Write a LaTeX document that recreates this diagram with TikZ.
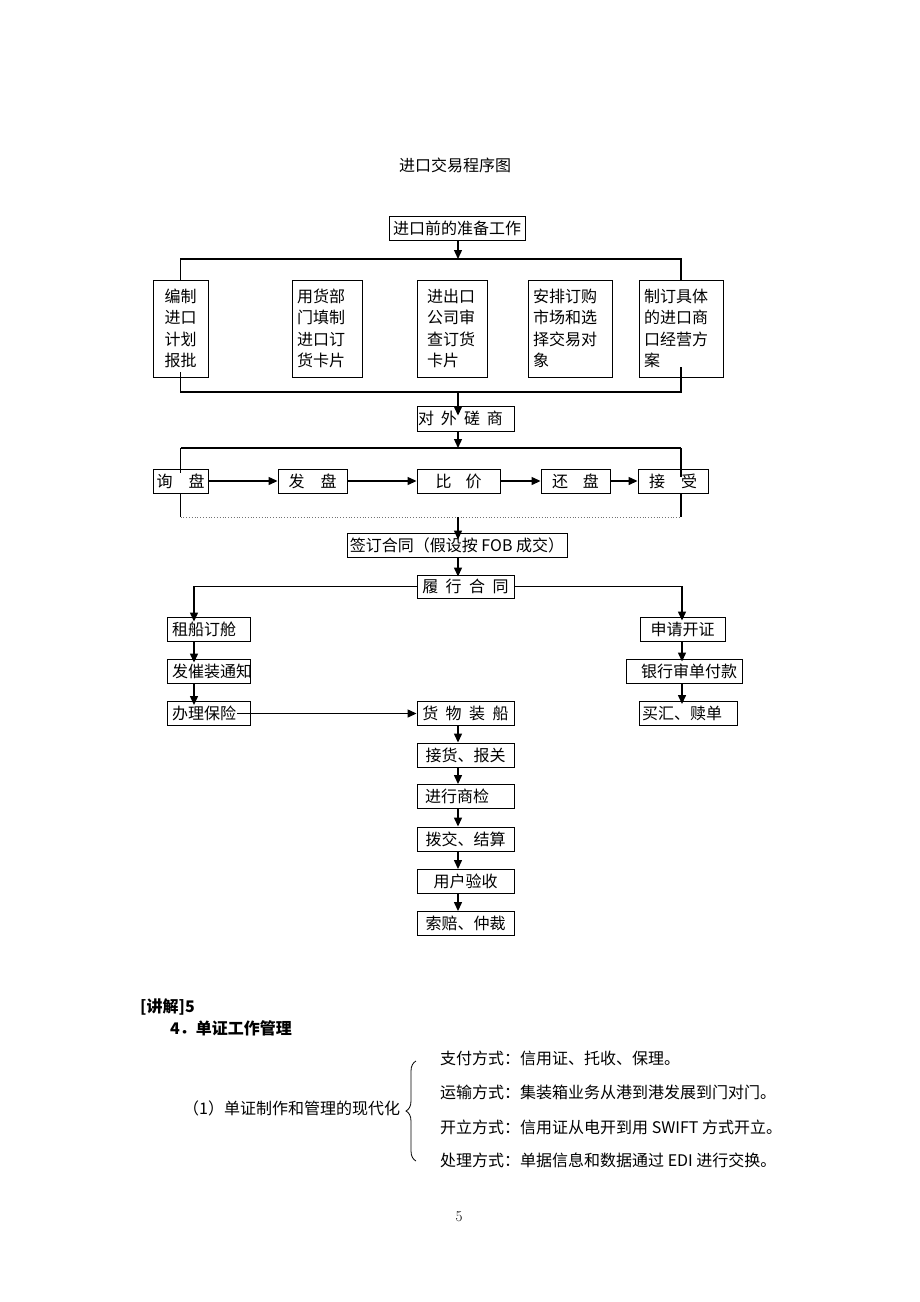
\documentclass[tikz,border=0pt]{standalone}
\usepackage{fontspec}
\newfontfamily\cjk{Noto Sans CJK SC}
\usetikzlibrary{arrows.meta,decorations.pathreplacing,calc}
\begin{document}
\begin{tikzpicture}[x=1pt,y=-1pt,
  every node/.style={font=\cjk\fontsize{16}{21.5}\selectfont},
  bx/.style={draw, line width=0.9pt, inner sep=0pt, minimum height=24pt},
  tall/.style={bx, minimum height=97pt, align=left, inner xsep=5pt},
  lbx/.style={bx, align=left, inner xsep=5pt},
  txt/.style={inner sep=0pt, anchor=west},
  arr/.style={line width=1.3pt, -{Triangle[length=9pt,width=8pt]}},
  ln/.style={line width=1.3pt}]
\useasboundingbox[fill=white] (0,0) rectangle (920,1302);

% title
\node (title) at (455,165) {进口交易程序图};

% preparation
\node[bx, minimum width=136pt] (prep) at (457,228) {进口前的准备工作};
\node[tall, text width=45pt, align=center] (b1) at (180.5,328.5) {编制\\进口\\计划\\报批};
\node[tall, text width=60pt] (b2) at (327,328.5) {用货部\\门填制\\进口订\\货卡片};
\node[tall, text width=50pt, inner xsep=10pt] (b3) at (452,328.5) {进出口\\公司审\\查订货\\卡片};
\node[tall, text width=74pt] (b4) at (570,328.5) {安排订购\\市场和选\\择交易对\\象};
\node[tall, text width=74pt] (b5) at (681,328.5) {制订具体\\的进口商\\口经营方\\案};

\coordinate (j1) at (458,259);
\coordinate (j2) at (458,392);
\draw[arr] (prep.south -| j1) -- (j1);
\draw[ln] (b1.north) -- (b1.north |- j1) -- (b5.north |- j1) -- (b5.north);
\draw[ln] ([yshift=5pt]b1.south) -- (b1.south |- j2) -- (b5.south |- j2) -- ([yshift=10pt]b5.south);

% negotiation
\node[bx, minimum width=97pt, minimum height=25pt, text width=95pt, inner xsep=1pt, align=left] (neg) at (465.5,418.5) {对\hspace{7pt}外\hspace{7pt}磋\hspace{7pt}商};
\draw[arr, shorten >=-10pt] (j2) -- (j2 |- neg.north);
\coordinate (j3) at (458,448);
\draw[arr] (neg.south -| j3) -- (j3);

\node[bx, minimum width=55pt] (x1) at (180.5,481) {询\hspace{16pt}盘};
\node[bx, minimum width=69pt] (x2) at (312.5,481) {发\hspace{16pt}盘};
\node[bx, minimum width=83pt] (x3) at (458.5,481) {比\hspace{14pt}价};
\node[bx, minimum width=69pt] (x4) at (575.5,481) {还\hspace{15pt}盘};
\node[bx, minimum width=70pt] (x5) at (673,481) {接\hspace{16pt}受};

\coordinate (nl) at (180.5,448);
\coordinate (nr) at (681,448);
\coordinate (j4) at (458,517);
\draw[ln] (nl) -- (nr);
\draw[ln] (nl) -- ($(nl |- x1.north)+(0,4)$);
\draw[ln] (nl |- x1.south) -- (nl |- j4);
\draw[ln] (nr) -- ($(nr |- x5.north)+(0,8)$);
\draw[ln] (nr |- x5.south) -- (nr |- j4);
\draw[dotted, line width=0.8pt, black!55] (nl |- j4) -- (nr |- j4);
\draw[arr] (x1) -- (x2);
\draw[arr] (x2) -- (x3);
\draw[arr] (x3) -- (x4);
\draw[arr] (x4) -- (x5);

% contract
\node[bx, minimum width=220pt] (sign) at (457,545) {签订合同（假设按 FOB 成交）};
\draw[arr, shorten >=-7pt] (j4) -- (j4 |- sign.north);
\node[bx, minimum width=97pt, minimum height=23pt] (perf) at (465.5,586.5) {履\hspace{7.5pt}行\hspace{7.5pt}合\hspace{7.5pt}同};
\draw[arr, shorten >=-2pt] (sign.south -| j4) -- (perf.north -| j4);

% left column
\coordinate (lc) at (194,586.5);
\node[lbx, text width=73pt] (ship) at (208.5,629) {租船订舱};
\node[lbx, text width=73pt] (notice) at (208.5,671) {发催装通知};
\node[lbx, text width=73pt] (ins) at (208.5,713.5) {办理保险};
\draw[arr] (perf.west) -- (lc) -- ($(lc |- ship.north)+(0,5)$);
\draw[arr] (lc |- ship.south) -- ($(lc |- notice.north)+(0,4)$);
\draw[arr] (lc |- notice.south) -- ($(lc |- ins.north)+(0,4)$);

% right column
\coordinate (rc) at (682,586.5);
\node[bx, minimum width=85pt] (apply) at (682.5,629) {申请开证};
\node[bx, minimum width=116pt] (bank) at (684,671) {\hspace{10pt}银行审单付款};
\node[lbx, text width=92pt, inner xsep=3pt] (buy) at (688,713.5) {买汇、赎单};
\draw[arr] (perf.east) -- (rc) -- ($(rc |- apply.north)+(0,4)$);
\draw[arr] (rc |- apply.south) -- ($(rc |- bank.north)+(0,3)$);
\draw[arr] (rc |- bank.south) -- ($(rc |- buy.north)+(0,3)$);

% centre column
\coordinate (cc) at (458,740);
\node[bx, minimum width=97pt] (load) at (465.5,713.5) {货\hspace{7.5pt}物\hspace{7.5pt}装\hspace{7.5pt}船};
\node[bx, minimum width=97pt] (cust) at (465.5,755) {接货、报关};
\node[lbx, text width=81pt, inner xsep=8pt] (insp) at (465.5,796.5) {进行商检};
\node[bx, minimum width=97pt] (alloc) at (465.5,839) {拨交、结算};
\node[bx, minimum width=97pt] (accept) at (465.5,881.5) {用户验收};
\node[bx, minimum width=97pt] (claim) at (465.5,923.5) {索赔、仲裁};
\draw[arr] ($(ins.east)+(-13,0)$) -- (load.west);
\draw[arr] (cc |- load.south) -- (cc |- cust.north);
\draw[arr] (cc |- cust.south) -- (cc |- insp.north);
\draw[arr] (cc |- insp.south) -- (cc |- alloc.north);
\draw[arr] (cc |- alloc.south) -- (cc |- accept.north);
\draw[arr] (cc |- accept.south) -- (cc |- claim.north);

% lecture text
\node[txt, font=\cjk\bfseries\fontsize{16}{18}\selectfont] (lec) at (140,1007) {[讲解]5};
\node[txt, font=\cjk\bfseries\fontsize{16}{18}\selectfont] (sec) at (170,1028) {4．单证工作管理};
\node[txt] (mod) at (183,1108) {（1）单证制作和管理的现代化};
\coordinate (brb) at (416,1161);
\coordinate (brt) at (416,1061);
\draw[decorate, decoration={brace, amplitude=10pt}, line width=0.8pt] (brb) -- (brt);
\node[txt] (l1) at (440,1058) {支付方式：信用证、托收、保理。};
\node[txt] (l2) at (440,1092) {运输方式：集装箱业务从港到港发展到门对门。};
\node[txt] (l3) at (440,1127) {开立方式：信用证从电开到用 SWIFT 方式开立。};
\node[txt] (l4) at (440,1160) {处理方式：单据信息和数据通过 EDI 进行交换。};

% page number
\node[font=\rmfamily\fontsize{15}{18}\selectfont] (pg) at (459,1217) {5};
\end{tikzpicture}
\end{document}
